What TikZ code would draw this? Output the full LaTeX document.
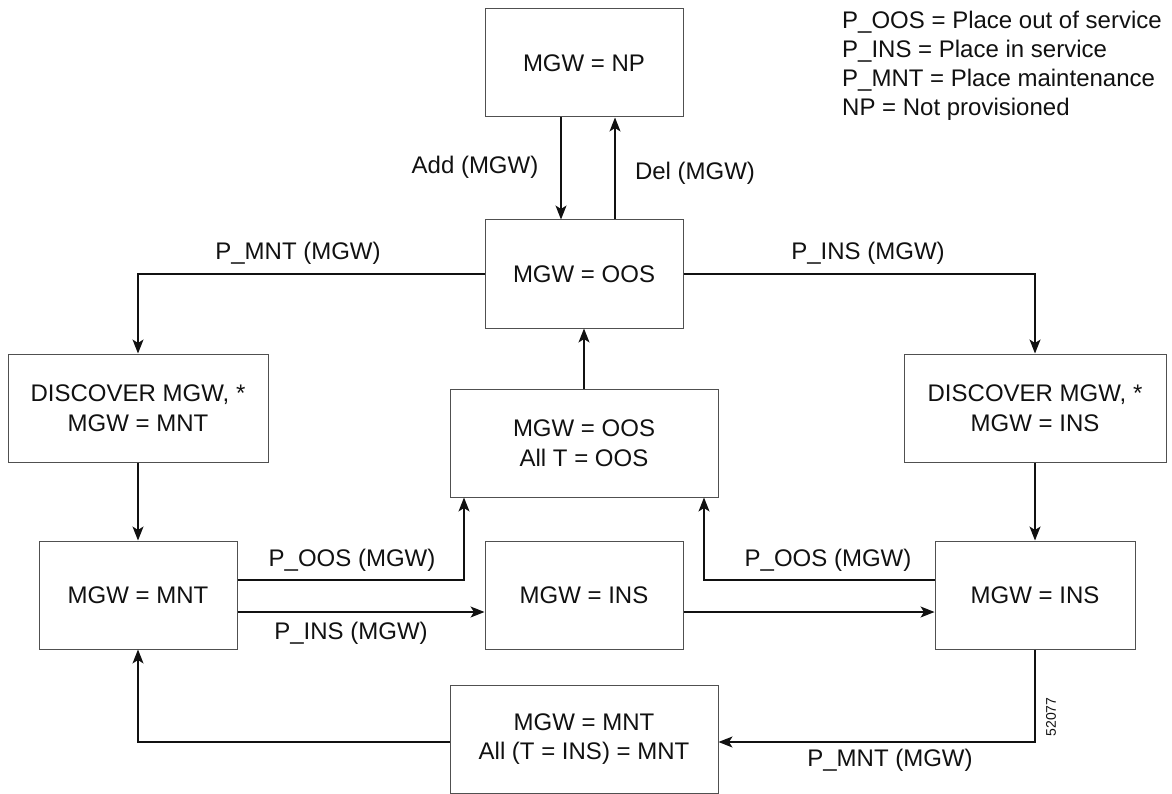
\documentclass[tikz,border=0pt]{standalone}
\usepackage{fontspec}
\setmainfont{Liberation Sans}
\usepackage{tikz}
\usetikzlibrary{calc,arrows.meta,positioning}
\definecolor{edgex}{HTML}{505050}
\definecolor{inkx}{HTML}{111111}
\tikzset{
  ar/.style={-{Stealth[length=14pt,width=11pt,inset=3.5pt]},line width=1.2pt,inkx},
  box/.style={draw=edgex,line width=1pt,align=center,inner sep=0pt,minimum height=108pt,font=\fontsize{24}{29.5}\selectfont,text=inkx},
  lbl/.style={font=\fontsize{24}{29}\selectfont,inner sep=0pt,text=inkx}
}

\begin{document}
\begin{tikzpicture}[x=1pt,y=-1pt]
\useasboundingbox (0,0) rectangle (1172,794);
\node[box,minimum width=198pt] (np) at (584,63) {MGW = NP};
\node[box,minimum width=198pt] (oos) at (584,274) {MGW = OOS};
\node[box,minimum width=260pt] (discl) at (138,408) {DISCOVER MGW, *\\MGW = MNT};
\node[box,minimum width=262pt] (discr) at (1035,408) {DISCOVER MGW, *\\MGW = INS};
\node[box,minimum width=268pt] (oosall) at (584,443) {MGW = OOS\\All T = OOS};
\node[box,minimum width=198pt] (mnt) at (138,595) {MGW = MNT};
\node[box,minimum width=198pt] (insc) at (584,595) {MGW = INS};
\node[box,minimum width=200pt] (insr) at (1035,595) {MGW = INS};
\node[box,minimum width=268pt] (mntall) at (584,739) {MGW = MNT\\All (T = INS) = MNT};
\draw[ar] ([xshift=-23pt]np.south) -- ([xshift=-23pt]oos.north);
\draw[ar] ([xshift=31pt]oos.north) -- ([xshift=31pt]np.south);
\draw[ar] (oos.west) -| (discl.north);
\draw[ar] (oos.east) -| (discr.north);
\draw[ar] (oosall.north) -- (oos.south);
\draw[ar] (discl.south) -- (mnt.north);
\draw[ar] (discr.south) -- (insr.north);
\draw[ar] ([yshift=15pt]mnt.east) -| ([xshift=-120pt]oosall.south);
\draw[ar] ([yshift=15pt]insr.west) -| ([xshift=120pt]oosall.south);
\draw[ar] ([yshift=-17pt]mnt.east) -- ([yshift=-17pt]insc.west);
\draw[ar] ([yshift=-17pt]insc.east) -- ([yshift=-17pt]insr.west);
\draw[ar] (insr.south) |- ([yshift=-3pt]mntall.east);
\draw[ar] ([yshift=-3pt]mntall.west) -| (mnt.south);
\node[lbl] (addl) at (475,167) {Add (MGW)};
\node[lbl] (dell) at (695,173) {Del (MGW)};
\node[lbl] (pmnta) at (298,253) {P\_MNT (MGW)};
\node[lbl] (pinsa) at (868,253) {P\_INS (MGW)};
\node[lbl] (poosl) at (352,560) {P\_OOS (MGW)};
\node[lbl] (pinsl) at (351,633) {P\_INS (MGW)};
\node[lbl] (poosr) at (828,560) {P\_OOS (MGW)};
\node[lbl] (pmntb) at (890,760) {P\_MNT (MGW)};
\node[lbl,align=left,anchor=west] (legend) at (842,66) {P\_OOS = Place out of service\\P\_INS = Place in service\\P\_MNT = Place maintenance\\NP = Not provisioned};
\node[font=\fontsize{14}{16}\selectfont,rotate=90,inner sep=0pt,text=inkx] (figno) at (1051,717) {52077};
\end{tikzpicture}
\end{document}
